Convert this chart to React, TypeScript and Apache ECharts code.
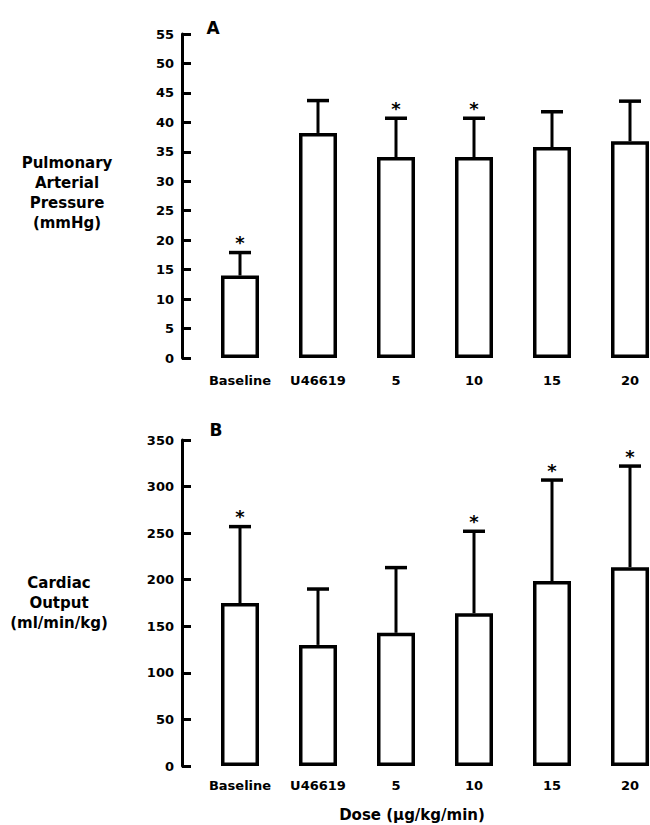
import React, { useEffect, useRef } from "react";
import * as echarts from "echarts";

const categories = ["Baseline", "U46619", "5", "10", "15", "20"];

// Panel A: Pulmonary Arterial Pressure (mmHg)
const papMean = [14, 38.2, 34.1, 34.1, 35.8, 36.8];
const papUpper = [17.9, 43.7, 40.7, 40.7, 41.8, 43.6];
const papSig = [1, 0, 1, 1, 0, 0];

// Panel B: Cardiac Output (ml/min/kg)
const coMean = [175, 130, 143, 164, 198.5, 213.5];
const coUpper = [257, 190, 213, 252, 307, 322];
const coSig = [1, 0, 0, 1, 1, 1];

const FONT = "DejaVu Sans";

function errorSeries(gridIdx: number, mean: number[], upper: number[], sig: number[]) {
  return {
    type: "custom",
    xAxisIndex: gridIdx,
    yAxisIndex: gridIdx,
    z: 10,
    clip: false,
    data: mean.map((m, i) => [i, m, upper[i], sig[i]]),
    renderItem: (params: any, api: any) => {
      const idx = api.value(0);
      const m = api.value(1);
      const u = api.value(2);
      const s = api.value(3);
      const p0 = api.coord([idx, m]);
      const p1 = api.coord([idx, u]);
      const children: any[] = [
        {
          type: "line",
          shape: { x1: p0[0], y1: p0[1], x2: p1[0], y2: p1[1] },
          style: { stroke: "#000", lineWidth: 3 },
        },
        {
          type: "line",
          shape: { x1: p1[0] - 11, y1: p1[1], x2: p1[0] + 11, y2: p1[1] },
          style: { stroke: "#000", lineWidth: 3.5 },
        },
      ];
      if (s) {
        children.push({
          type: "text",
          x: p1[0],
          y: p1[1] - 10,
          style: {
            text: "*",
            fontSize: 18,
            fontWeight: "bold",
            fontFamily: FONT,
            fill: "#000",
            align: "center",
            verticalAlign: "middle",
          },
        });
      }
      return { type: "group", children };
    },
  };
}

export default function App() {
  const ref = useRef<HTMLDivElement>(null);

  useEffect(() => {
    document.body.style.margin = "0";
    const chart = echarts.init(ref.current!, undefined, { renderer: "svg" });

    const yAxisBase = {
      type: "value",
      position: "left",
      offset: 19,
      axisLine: { show: true, lineStyle: { color: "#000", width: 3 } },
      axisTick: { show: true, inside: true, length: 9, lineStyle: { color: "#000", width: 3 } },
      axisLabel: { color: "#000", fontSize: 13, fontWeight: "bold", fontFamily: FONT, margin: 8 },
      splitLine: { show: false },
    };
    const xAxisBase = {
      type: "category",
      data: categories,
      axisLine: { show: false },
      axisTick: { show: false },
      axisLabel: { color: "#000", fontSize: 13, fontWeight: "bold", fontFamily: FONT, interval: 0 },
    };

    chart.setOption({
      animation: false,
      backgroundColor: "#fff",
      grid: [
        { left: 201, top: 34, width: 468, height: 324, outerBoundsMode: "none", containLabel: false },
        { left: 201, top: 440, width: 468, height: 326, outerBoundsMode: "none", containLabel: false },
      ],
      xAxis: [
        { ...xAxisBase, gridIndex: 0, axisLabel: { ...xAxisBase.axisLabel, margin: 16 } },
        { ...xAxisBase, gridIndex: 1, axisLabel: { ...xAxisBase.axisLabel, margin: 13 } },
      ],
      yAxis: [
        { ...yAxisBase, gridIndex: 0, min: 0, max: 55, interval: 5 },
        { ...yAxisBase, gridIndex: 1, min: 0, max: 350, interval: 50 },
      ],
      series: [
        {
          type: "bar",
          xAxisIndex: 0,
          yAxisIndex: 0,
          data: papMean,
          barWidth: 38,
          itemStyle: { color: "#fff", borderColor: "#000", borderWidth: 3.5 },
        },
        errorSeries(0, papMean, papUpper, papSig),
        {
          type: "bar",
          xAxisIndex: 1,
          yAxisIndex: 1,
          data: coMean,
          barWidth: 38,
          itemStyle: { color: "#fff", borderColor: "#000", borderWidth: 3.5 },
        },
        errorSeries(1, coMean, coUpper, coSig),
      ],
      graphic: [
        {
          type: "text",
          x: 213,
          y: 28,
          style: { text: "A", fontSize: 17, fontWeight: "bold", fontFamily: FONT, fill: "#000", align: "center", verticalAlign: "middle" },
        },
        {
          type: "text",
          x: 216,
          y: 430,
          style: { text: "B", fontSize: 17, fontWeight: "bold", fontFamily: FONT, fill: "#000", align: "center", verticalAlign: "middle" },
        },
        {
          type: "text",
          x: 67,
          y: 193,
          style: {
            text: "Pulmonary\nArterial\nPressure\n(mmHg)",
            fontSize: 15,
            lineHeight: 20,
            fontWeight: "bold",
            fontFamily: FONT,
            fill: "#000",
            align: "center",
            verticalAlign: "middle",
          },
        },
        {
          type: "text",
          x: 59,
          y: 603,
          style: {
            text: "Cardiac\nOutput\n(ml/min/kg)",
            fontSize: 15,
            lineHeight: 20,
            fontWeight: "bold",
            fontFamily: FONT,
            fill: "#000",
            align: "center",
            verticalAlign: "middle",
          },
        },
        {
          type: "text",
          x: 412,
          y: 815,
          style: {
            text: "Dose (\u00b5g/kg/min)",
            fontSize: 15,
            fontWeight: "bold",
            fontFamily: FONT,
            fill: "#000",
            align: "center",
            verticalAlign: "middle",
          },
        },
      ],
    });

    return () => chart.dispose();
  }, []);

  return <div ref={ref} style={{ position: "fixed", left: 0, top: 0, width: 650, height: 825 }} />;
}
